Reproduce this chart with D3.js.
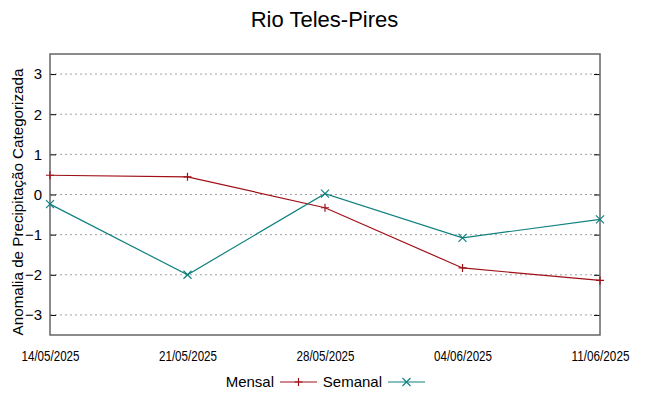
<!DOCTYPE html>
<html>
<head>
<meta charset="utf-8">
<script src="https://cdn.jsdelivr.net/npm/d3@7"></script>
<style>
  body { margin: 0; background: #fff; }
  text { font-family: "Liberation Sans", Arial, sans-serif; fill: #000; }
</style>
</head>
<body>
<div id="chart"></div>
<script>
// data
var dates = ["14/05/2025", "21/05/2025", "28/05/2025", "04/06/2025", "11/06/2025"];
var mensal = [0.48, 0.44, -0.33, -1.83, -2.14];
var semanal = [-0.24, -2.0, 0.02, -1.08, -0.62];
var yTicks = [-3, -2, -1, 0, 1, 2, 3];

var width = 648, height = 396;
var margin = {left: 50, right: 48, top: 54, bottom: 61};

var parse = d3.timeParse("%d/%m/%Y");
var fmt = d3.timeFormat("%d/%m/%Y");
var days = dates.map(parse);

var svg = d3.select("#chart").append("svg")
    .attr("width", width)
    .attr("height", height);

var x = d3.scaleTime()
    .domain(d3.extent(days))
    .range([margin.left, width - margin.right]);

var y = d3.scaleLinear()
    .domain([-3.5, 3.5])
    .range([height - margin.bottom, margin.top]);

// dotted grid
svg.append("g").selectAll("line")
    .data(yTicks)
  .enter().append("line")
    .attr("x1", margin.left)
    .attr("x2", width - margin.right)
    .attr("y1", function(d) { return y(d); })
    .attr("y2", function(d) { return y(d); })
    .attr("stroke", "#a0a0a0")
    .attr("stroke-width", 1)
    .attr("stroke-dasharray", "2,3");

// left axis, ticks inward
var yAxis = svg.append("g")
    .attr("transform", "translate(" + margin.left + ",0)")
    .call(d3.axisLeft(y).tickValues(yTicks).tickSize(-6).tickPadding(8).tickFormat(d3.format("d")));
yAxis.select(".domain").remove();
yAxis.selectAll("text").style("font-size", "15px").attr("font-family", "Liberation Sans, Arial, sans-serif");

// right axis, ticks inward
var yAxisR = svg.append("g")
    .attr("transform", "translate(" + (width - margin.right) + ",0)")
    .call(d3.axisRight(y).tickValues(yTicks).tickSize(-6).tickFormat(""));
yAxisR.select(".domain").remove();

// bottom axis - labels are narrow in the original, squeeze them
var xAxis = svg.append("g")
    .attr("transform", "translate(0," + (height - margin.bottom) + ")")
    .call(d3.axisBottom(x).tickValues(days).tickSize(0).tickPadding(16).tickFormat(fmt));
xAxis.select(".domain").remove();
xAxis.selectAll("text").style("font-size", "14px")
    .attr("textLength", 58)
    .attr("lengthAdjust", "spacingAndGlyphs");

[yAxis, yAxisR].forEach(function(g) {
  g.selectAll(".tick line").attr("stroke", "#000").attr("stroke-width", 1);
});

// border
svg.append("rect")
    .attr("x", margin.left)
    .attr("y", margin.top)
    .attr("width", width - margin.left - margin.right)
    .attr("height", height - margin.top - margin.bottom)
    .attr("fill", "none")
    .attr("stroke", "#666")
    .attr("stroke-width", 1.5);

var series = [
  {name: "Mensal", values: mensal, color: "#a01018", mark: "plus"},
  {name: "Semanal", values: semanal, color: "#108080", mark: "cross"}
];

var line = d3.line()
    .x(function(d, i) { return x(days[i]); })
    .y(function(d) { return y(d); });

function marker(g, kind, cx, cy, color) {
  var s = 4;
  var p = kind === "plus"
    ? "M" + (cx - s) + "," + cy + "H" + (cx + s) + "M" + cx + "," + (cy - s) + "V" + (cy + s)
    : "M" + (cx - s) + "," + (cy - s) + "L" + (cx + s) + "," + (cy + s) +
      "M" + (cx - s) + "," + (cy + s) + "L" + (cx + s) + "," + (cy - s);
  g.append("path").attr("d", p).attr("stroke", color).attr("stroke-width", 1.2).attr("fill", "none");
}

series.forEach(function(s) {
  svg.append("path")
      .datum(s.values)
      .attr("d", line)
      .attr("fill", "none")
      .attr("stroke", s.color)
      .attr("stroke-width", 1.2);
  var g = svg.append("g");
  s.values.forEach(function(v, i) { marker(g, s.mark, x(days[i]), y(v), s.color); });
});

// title
svg.append("text")
    .attr("x", 324.5)
    .attr("y", 27)
    .attr("text-anchor", "middle")
    .style("font-size", "22px")
    .text("Rio Teles-Pires");

// y label
svg.append("text")
    .attr("transform", "translate(23,202) rotate(-90)")
    .attr("text-anchor", "middle")
    .style("font-size", "15.2px")
    .text("Anomalia de Precipitação Categorizada");

// legend
var leg = svg.append("g");
var legY = 382;
var legItems = [
  {s: series[0], tx: 274, lx: 280},
  {s: series[1], tx: 382, lx: 388}
];
legItems.forEach(function(it) {
  leg.append("text")
      .attr("x", it.tx)
      .attr("y", legY + 5)
      .attr("text-anchor", "end")
      .style("font-size", "15px")
      .text(it.s.name);
  leg.append("line")
      .attr("x1", it.lx).attr("x2", it.lx + 37)
      .attr("y1", legY).attr("y2", legY)
      .attr("stroke", it.s.color)
      .attr("stroke-width", 1.2);
  marker(leg, it.s.mark, it.lx + 18.5, legY, it.s.color);
});
</script>
</body>
</html>
